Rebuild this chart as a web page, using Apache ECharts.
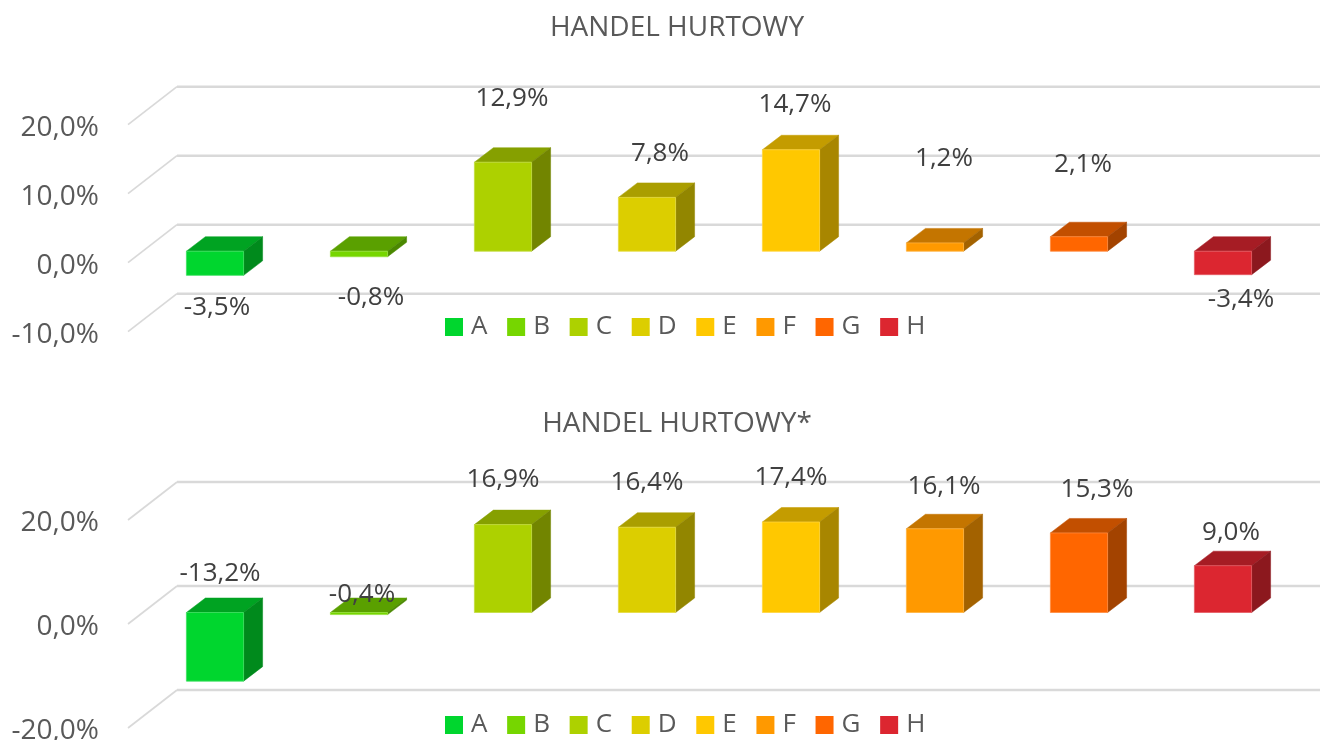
<!DOCTYPE html>
<html>
<head>
<meta charset="utf-8">
<style>html,body{margin:0;padding:0;background:#fff}#main{width:1320px;height:740px}</style>
<script src="https://cdn.jsdelivr.net/npm/echarts@6/dist/echarts.min.js"></script>
</head>
<body>
<div id="main"></div>
<script>
var categories = ['A', 'B', 'C', 'D', 'E', 'F', 'G', 'H'];
var values1 = [-3.5, -0.8, 12.9, 7.8, 14.7, 1.2, 2.1, -3.4];
var values2 = [-13.2, -0.4, 16.9, 16.4, 17.4, 16.1, 15.3, 9.0];
var ticks1 = [-10, 0, 10, 20];
var ticks2 = [-20, 0, 20];

// colours per category: front, top, side
var frontColors = ['#00d62e', '#76d600', '#add100', '#dcce00', '#ffc800', '#ff9900', '#ff6600', '#dc2630'];
var topColors = ['#00a322', '#5aa000', '#86a000', '#aa9e00', '#c49c00', '#c47500', '#c24f00', '#a61c24'];
var sideColors = ['#008a1c', '#4a8800', '#728500', '#928600', '#a88600', '#a36200', '#a34300', '#8c181e'];

// hand placed data labels in the original, offset from the value point
var labelOffsets1 = [[17, 21], [27, 29], [24, -75], [28, -55], [19, -57], [24, -96], [19, -84], [33, 13]];
var labelOffsets2 = [[20, -119], [18, -31], [15, -57], [15, -56], [15, -56], [24, -54], [33, -55], [23, -45]];

var FONT = '"Open Sans"';
var chart = echarts.init(document.getElementById('main'));

function fmt(v) {
    return v.toFixed(1).replace('.', ',') + '%';
}

function wallItem(params, api) {
    var cs = params.coordSys;
    var y = api.coord([0, api.value(0)])[1];
    return {
        type: 'group',
        children: [
            { type: 'line', shape: { x1: cs.x, y1: y, x2: cs.x + 49, y2: y - 38 }, style: { stroke: '#d9d9d9', lineWidth: 1.7 } },
            { type: 'line', shape: { x1: cs.x + 49, y1: y - 38, x2: cs.x + 49 + cs.width, y2: y - 38 }, style: { stroke: '#d9d9d9', lineWidth: 2.5 } }
        ]
    };
}

function barItem(offsets) {
    return function (params, api) {
        var i = api.value(0), v = api.value(1);
        var c = api.coord([i, v]), z = api.coord([i, 0]);
        var shiftX = 15, shiftY = -11.5, w = 28.6, dx = 19, dy = -14.5;
        var x0 = c[0] + shiftX - w, x1 = c[0] + shiftX + w;
        var yT = Math.min(c[1], z[1]) + shiftY, yB = Math.max(c[1], z[1]) + shiftY;
        var off = offsets[i];
        var edge = echarts.color.lift(frontColors[i], 0.25);
        return {
            type: 'group',
            children: [
                { type: 'polygon', shape: { points: [[x0, yT], [x1, yT], [x1 + dx, yT + dy], [x0 + dx, yT + dy]] }, style: { fill: topColors[i], stroke: topColors[i], lineWidth: 0.5 } },
                { type: 'polygon', shape: { points: [[x1, yT], [x1 + dx, yT + dy], [x1 + dx, yB + dy], [x1, yB]] }, style: { fill: sideColors[i], stroke: sideColors[i], lineWidth: 0.5 } },
                { type: 'rect', shape: { x: x0, y: yT, width: x1 - x0, height: yB - yT }, style: { fill: frontColors[i], stroke: edge, lineWidth: 0.8 } },
                { type: 'text', style: { text: fmt(v), x: c[0] + off[0], y: c[1] + off[1], fill: '#404040', font: '26px ' + FONT, align: 'center', verticalAlign: 'middle' } }
            ]
        };
    };
}

function buildSeries(values, ticks, offsets, idx) {
    var list = [{
        name: 'wall' + idx,
        type: 'custom',
        xAxisIndex: idx,
        yAxisIndex: idx,
        silent: true,
        renderItem: wallItem,
        encode: { y: 0 },
        data: ticks.map(function (t) { return [t]; }),
        z: 1
    }];
    categories.forEach(function (name, i) {
        list.push({
            name: name,
            type: 'custom',
            xAxisIndex: idx,
            yAxisIndex: idx,
            itemStyle: { color: frontColors[i] },
            renderItem: barItem(offsets),
            encode: { x: 0, y: 1 },
            data: [[i, values[i]]],
            z: 2
        });
    });
    return list;
}

function legendFor(y) {
    return {
        left: 445,
        top: y,
        orient: 'horizontal',
        data: categories,
        icon: 'rect',
        selectedMode: false,
        itemWidth: 18,
        itemHeight: 18,
        itemGap: 19.7,
        padding: 0,
        textStyle: { fontFamily: FONT, fontSize: 26, color: '#595959', padding: [0, 0, 0, 3] }
    };
}

function yAxisFor(min, max, interval, idx) {
    return {
        type: 'value',
        gridIndex: idx,
        min: min,
        max: max,
        interval: interval,
        axisLine: { show: false },
        axisTick: { show: false },
        splitLine: { show: false },
        axisLabel: {
            formatter: function (v) { return '{t|' + fmt(v) + '}'; },
            margin: 29,
            rich: { t: { fontFamily: FONT, fontSize: 28, color: '#595959', padding: [7, 0, 0, 0] } }
        }
    };
}

var option = {
    animation: false,
    backgroundColor: '#fff',
    title: [
        { text: 'HANDEL HURTOWY', left: 672, top: 9, textAlign: 'center', textStyle: { fontFamily: FONT, fontSize: 28, fontWeight: 'normal', color: '#595959' } },
        { text: 'HANDEL HURTOWY*', left: 672, top: 405, textAlign: 'center', textStyle: { fontFamily: FONT, fontSize: 28, fontWeight: 'normal', color: '#595959' } }
    ],
    legend: [legendFor(314), legendFor(712)],
    grid: [
        { left: 128, right: 40, top: 124.7, height: 207, outerBoundsMode: 'none' },
        { left: 128, right: 40, top: 520, height: 208, outerBoundsMode: 'none' }
    ],
    xAxis: [
        { type: 'category', gridIndex: 0, data: categories, show: false },
        { type: 'category', gridIndex: 1, data: categories, show: false }
    ],
    yAxis: [yAxisFor(-10, 20, 10, 0), yAxisFor(-20, 20, 20, 1)],
    series: buildSeries(values1, ticks1, labelOffsets1, 0).concat(buildSeries(values2, ticks2, labelOffsets2, 1))
};
chart.setOption(option);
</script>
</body>
</html>
